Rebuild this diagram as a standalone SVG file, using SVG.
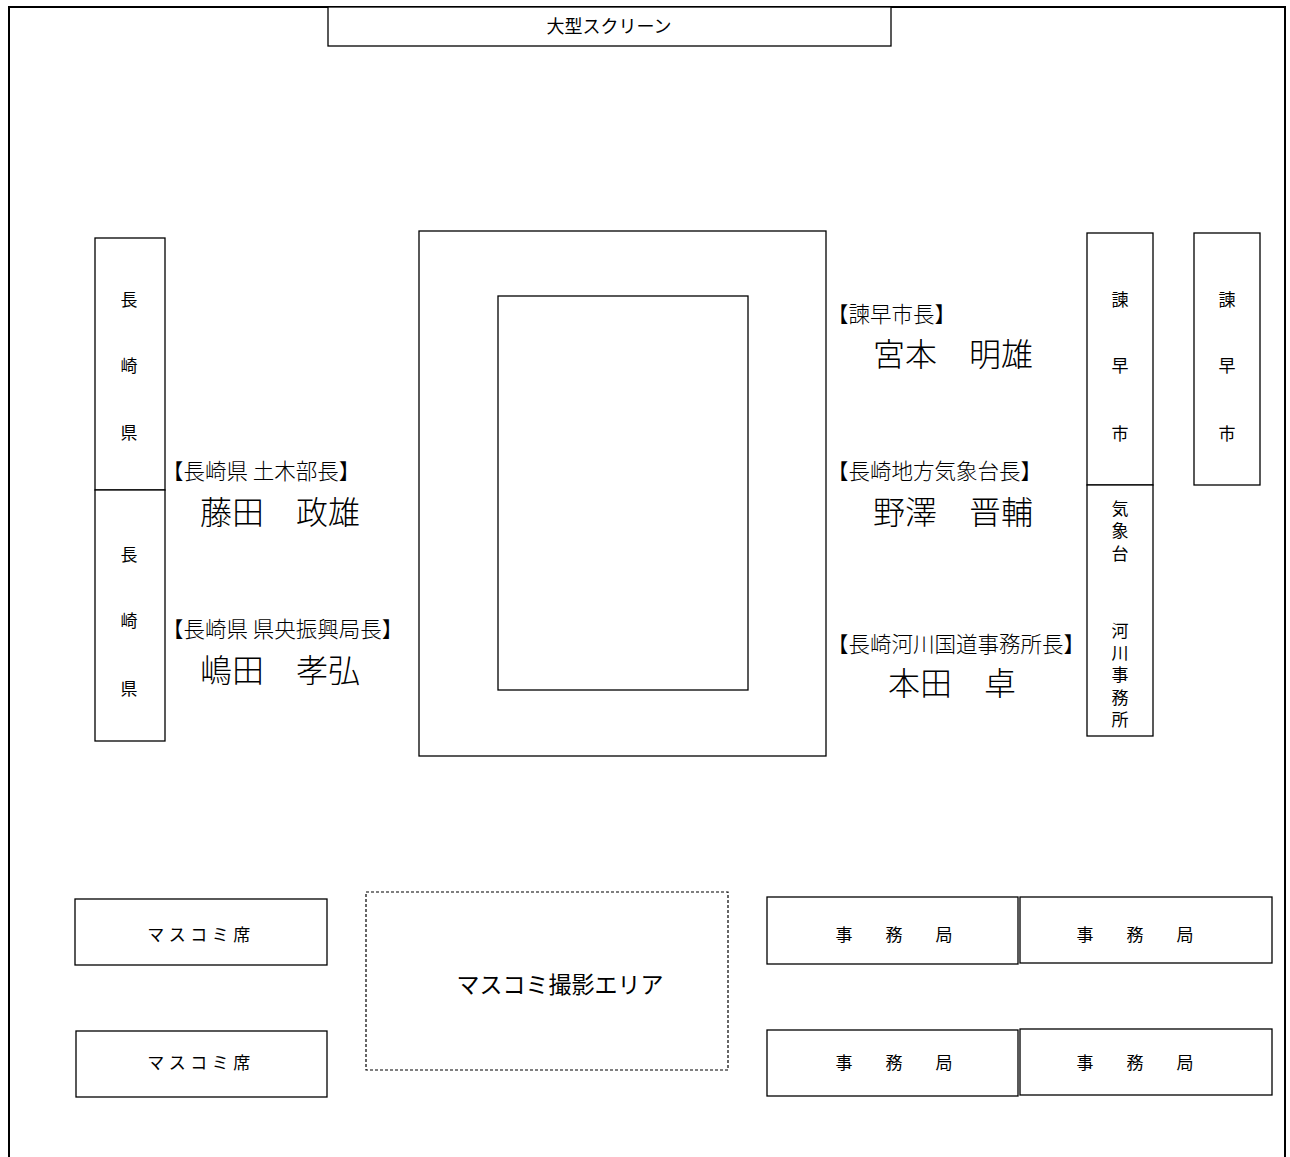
<svg xmlns="http://www.w3.org/2000/svg" width="1290" height="1157" viewBox="0 0 1290 1157">
<style>
.box{fill:#fff;stroke:#000;stroke-width:1.3}
.frame{fill:none;stroke:#000;stroke-width:2}
.g{font-family:"Noto Sans CJK JP","Noto Sans CJK SC",sans-serif;font-size:17px;fill:#000;text-anchor:middle}
.v{font-family:"Noto Sans CJK JP","Noto Sans CJK SC",sans-serif;font-size:17px;fill:#000;writing-mode:vertical-rl;text-anchor:start}
.lbl{font-family:"Noto Sans CJK JP","Noto Sans CJK SC",serif;font-size:21.5px;fill:#000;font-weight:300}
.nm{font-family:"Noto Sans CJK JP","Noto Sans CJK SC",serif;font-size:32px;fill:#000;font-weight:300}
</style>
<rect width="1290" height="1157" fill="#fff"/>
<g id="frame">
<path class="frame" d="M9,1157 V7 H1285 V1157"/>
</g>
<g id="screen">
<rect class="box" x="328" y="7" width="563" height="39"/>
<text class="g" x="609" y="33" style="font-size:18px">大型スクリーン</text>
</g>
<g id="table">
<rect class="box" x="419" y="231" width="407" height="525"/>
<rect class="box" x="498" y="296" width="250" height="394"/>
</g>
<g id="nagasaki-1">
<rect class="box" x="95" y="238" width="70" height="252"/>
<text class="g" x="129" y="306">長</text>
<text class="g" x="129" y="372">崎</text>
<text class="g" x="129" y="439">県</text>
</g>
<g id="nagasaki-2">
<rect class="box" x="95" y="490" width="70" height="251"/>
<text class="g" x="129" y="561">長</text>
<text class="g" x="129" y="627">崎</text>
<text class="g" x="129" y="695">県</text>
</g>
<g id="isahaya-1">
<rect class="box" x="1087" y="233" width="66" height="252"/>
<text class="g" x="1120" y="306">諫</text>
<text class="g" x="1120" y="372">早</text>
<text class="g" x="1120" y="440">市</text>
</g>
<g id="kishodai-kasen">
<rect class="box" x="1087" y="485" width="66" height="251"/>
<text class="v" x="1120" y="500" letter-spacing="5.5">気象台</text>
<text class="v" x="1120" y="622" letter-spacing="5.25">河川事務所</text>
</g>
<g id="isahaya-2">
<rect class="box" x="1194" y="233" width="66" height="252"/>
<text class="g" x="1227" y="306">諫</text>
<text class="g" x="1227" y="372">早</text>
<text class="g" x="1227" y="440">市</text>
</g>
<g id="fujita">
<text class="lbl" x="162" y="479">【長崎県 土木部長】</text>
<text class="nm" x="200" y="524">藤田　政雄</text>
</g>
<g id="shimada">
<text class="lbl" x="162" y="637">【長崎県 県央振興局長】</text>
<text class="nm" x="200" y="682">嶋田　孝弘</text>
</g>
<g id="miyamoto">
<text class="lbl" x="827" y="322">【諫早市長】</text>
<text class="nm" x="873" y="366">宮本　明雄</text>
</g>
<g id="nozawa">
<text class="lbl" x="827" y="479">【長崎地方気象台長】</text>
<text class="nm" x="873" y="524">野澤　晋輔</text>
</g>
<g id="honda">
<text class="lbl" x="827" y="652">【長崎河川国道事務所長】</text>
<text class="nm" x="888" y="695">本田　卓</text>
</g>
<g id="press-1">
<rect class="box" x="75" y="899" width="252" height="66"/>
<text class="g" x="201" y="941" letter-spacing="4.5">マスコミ席</text>
</g>
<g id="press-2">
<rect class="box" x="76" y="1031" width="251" height="66"/>
<text class="g" x="201" y="1069" letter-spacing="4.5">マスコミ席</text>
</g>
<g id="press-area">
<rect x="366" y="892" width="362" height="178" fill="#fff" stroke="#000" stroke-width="1.2" stroke-dasharray="3,2"/>
<text class="g" x="560" y="993" style="font-size:23px">マスコミ撮影エリア</text>
</g>
<g id="office-1">
<rect class="box" x="767" y="897" width="251" height="67"/>
<text class="g" x="898" y="941" letter-spacing="8">事　務　局</text>
</g>
<g id="office-2">
<rect class="box" x="1020" y="897" width="252" height="66"/>
<text class="g" x="1139" y="941" letter-spacing="8">事　務　局</text>
</g>
<g id="office-3">
<rect class="box" x="767" y="1030" width="251" height="66"/>
<text class="g" x="898" y="1069" letter-spacing="8">事　務　局</text>
</g>
<g id="office-4">
<rect class="box" x="1020" y="1029" width="252" height="66"/>
<text class="g" x="1139" y="1069" letter-spacing="8">事　務　局</text>
</g>
<g id="connectors"></g>
</svg>
